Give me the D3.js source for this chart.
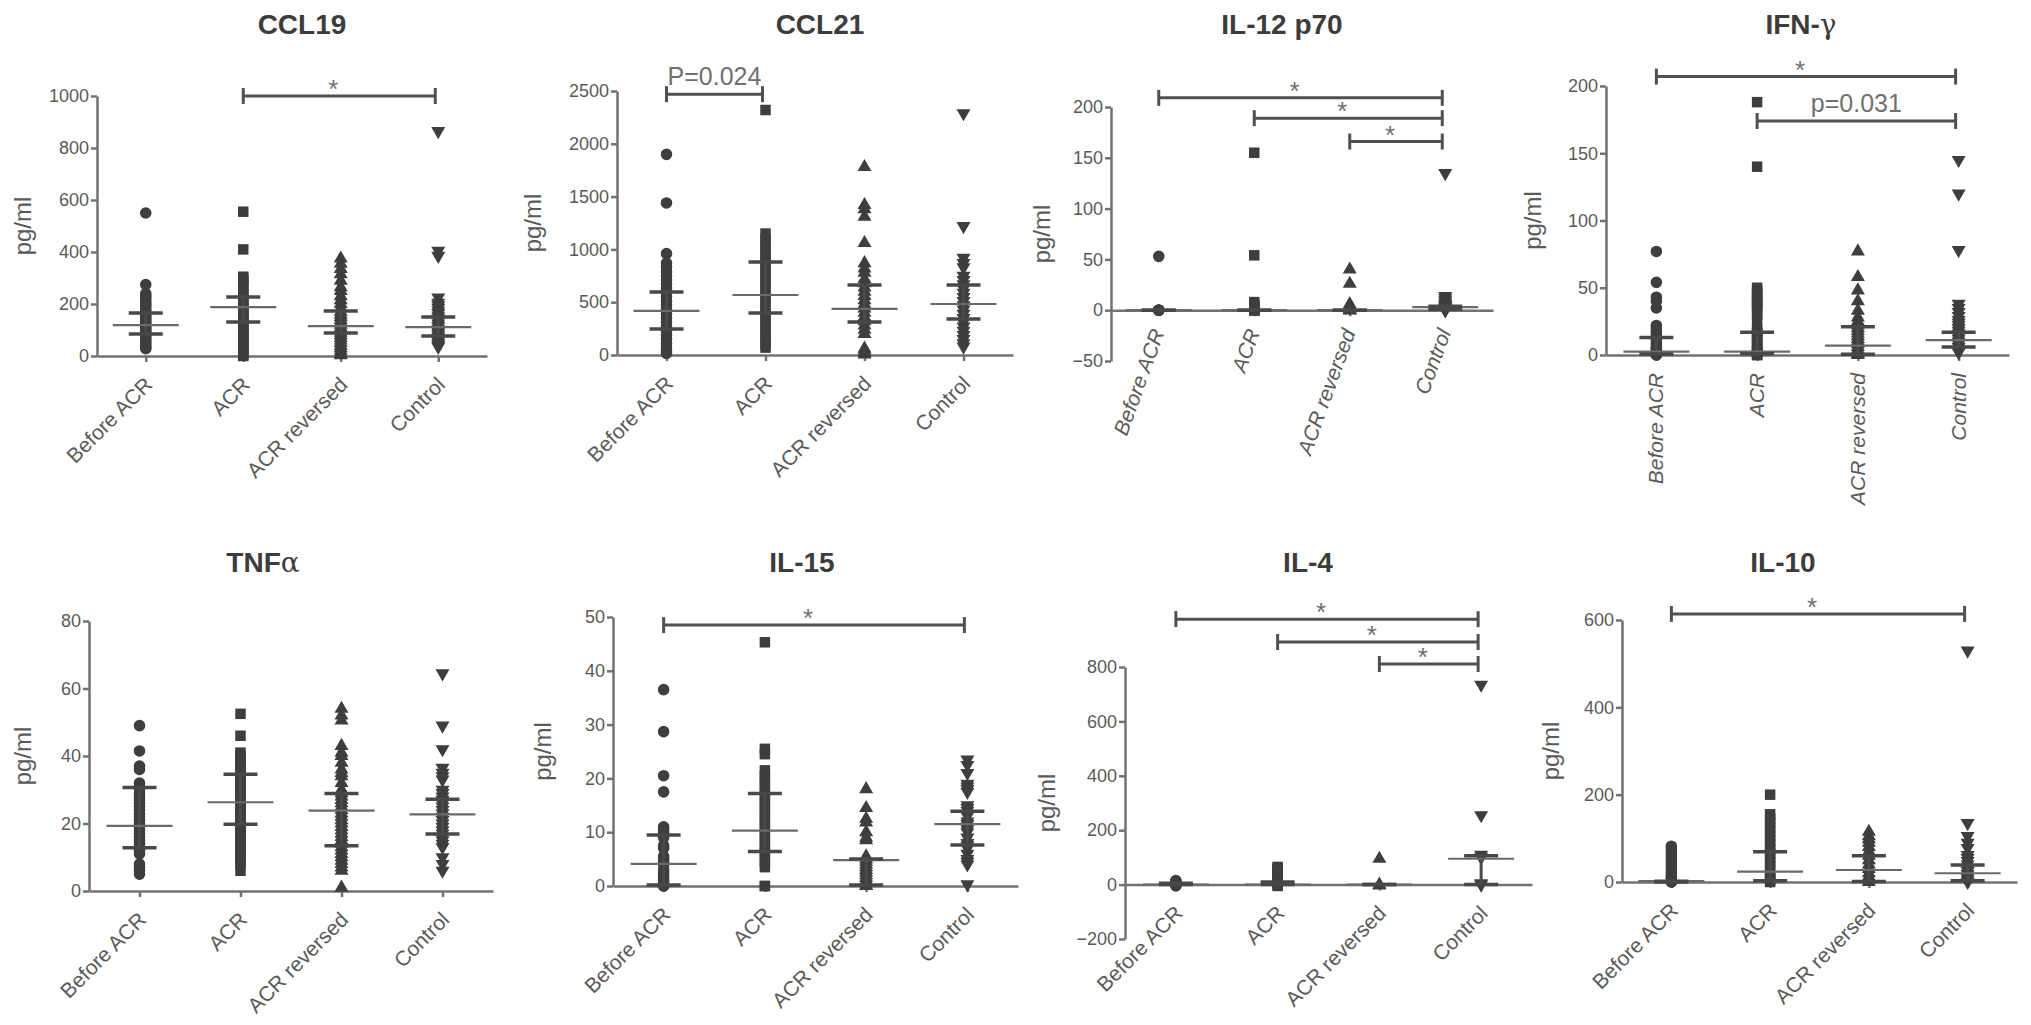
<!DOCTYPE html>
<html lang="en">
<head>
<meta charset="UTF-8">
<title>Cytokine levels by group</title>
<script src="https://d3js.org/d3.v7.min.js"></script>
<style>
  body { margin: 0; background: #fff; }
  svg text { font-family: "Liberation Sans", Arial, sans-serif; }
</style>
</head>
<body>
<svg id="chart" width="2031" height="1025"></svg>
<script>
const groups = ["Before ACR", "ACR", "ACR reversed", "Control"];

// CCL19
const ccl19Values = [
  [550, 275, 240, 232, 225, 215, 205, 198, 190, 180, 172, 165, 158, 150, 142, 135, 128, 120, 112, 105, 98, 92, 85, 78, 70, 62, 55, 48, 40, 32, 28],
  [555, 410, 305, 295, 285, 270, 255, 240, 228, 215, 200, 190, 180, 170, 160, 150, 140, 130, 120, 110, 100, 90, 80, 70, 60, 50, 40, 30, 20, 10, 5, 0],
  [375, 355, 335, 315, 290, 265, 250, 230, 215, 200, 185, 170, 160, 150, 140, 130, 120, 110, 100, 90, 80, 70, 60, 50, 40, 30, 20, 10, 3],
  [865, 405, 385, 225, 205, 195, 185, 175, 165, 155, 145, 135, 125, 115, 105, 95, 88, 80, 72, 65, 58, 50, 42, 35]
];
const ccl19Median = [119, 188, 115, 111];
const ccl19Q1 = [85, 131, 88, 77];
const ccl19Q3 = [165, 227, 173, 150];
const ccl19Ticks = [0, 200, 400, 600, 800, 1000];
const ccl19Brackets = [[1, 3, "*", 1000]];

// CCL21
const ccl21Values = [
  [1900, 1440, 960, 870, 830, 790, 750, 710, 670, 630, 590, 550, 510, 470, 430, 390, 350, 310, 270, 230, 190, 150, 110, 70, 40, 15],
  [2320, 1150, 1100, 1050, 1000, 950, 900, 850, 800, 750, 700, 650, 600, 550, 500, 450, 400, 350, 300, 250, 200, 150, 100, 70],
  [1780, 1420, 1380, 1310, 1060, 870, 820, 780, 720, 680, 640, 600, 560, 520, 480, 440, 400, 360, 320, 280, 240, 200, 60, 40, 20, 5],
  [2290, 1220, 920, 870, 830, 750, 710, 670, 630, 590, 550, 510, 470, 430, 390, 350, 310, 270, 230, 190, 150, 110, 80]
];
const ccl21Median = [417, 568, 436, 483];
const ccl21Q1 = [246, 398, 313, 341];
const ccl21Q3 = [596, 881, 663, 663];
const ccl21Ticks = [0, 500, 1000, 1500, 2000, 2500];
const ccl21Brackets = [[0, 1, "P=0.024", 2470]];

// IL-12 p70
const il12Values = [
  [53, 0, 0, 0, 0, 0],
  [155, 54, 8, 6, 4, 2, 0, 0, 0, 0],
  [40, 26, 6, 3, 1, 0, 0, 0],
  [135, 14, 12, 10, 8, 6, 5, 4, 3, 2, 1, 0, 0]
];
const il12Median = [0, 0, 0, 3];
const il12Q1 = [0, 0, 0, 1];
const il12Q3 = [0, 0, 0, 4];
const il12Ticks = [-50, 0, 50, 100, 150, 200];
const il12Brackets = [[0, 3, "*", 209], [1, 3, "*", 189], [2, 3, "*", 166]];

// IFN-gamma
const ifngValues = [
  [77, 54, 43, 40, 35, 22, 20, 18, 16, 14, 12, 10, 8, 6, 5, 4, 3, 2, 1, 0.5, 0, 0],
  [188, 140, 50, 48, 46, 44, 42, 40, 38, 36, 34, 30, 27, 20, 18, 16, 14, 12, 10, 8, 6, 4, 3, 2, 1, 0, 0],
  [77, 58, 48, 40, 33, 28, 25, 22, 20, 18, 16, 14, 12, 10, 8, 6, 4, 3, 2, 1, 0],
  [145, 120, 78, 38, 35, 32, 29, 26, 24, 22, 20, 18, 16, 14, 12, 10, 8, 6, 4, 2]
];
const ifngMedian = [2.5, 2.5, 7, 11];
const ifngQ1 = [0.7, 1, 0.5, 6];
const ifngQ3 = [13, 17, 21, 17];
const ifngTicks = [0, 50, 100, 150, 200];
const ifngBrackets = [[0, 3, "*", 207], [1, 3, "p=0.031", 174]];

// TNF-alpha
const tnfValues = [
  [49, 41.5, 37, 36, 32, 31, 30, 29, 28, 27, 26, 25, 24, 23, 22, 21, 20, 19, 18, 17, 16, 15, 14, 13, 12, 11, 8, 7, 6, 5],
  [52.5, 46, 41, 40, 39, 38, 37, 36, 35, 34, 33, 32, 31, 30, 29, 28, 27, 26, 25, 24, 23, 22, 21, 20, 19, 18, 17, 16, 15, 14, 13, 12, 11, 10, 9, 8, 6],
  [54, 52, 50.5, 43, 41, 40, 38, 36, 35, 34, 32, 30, 29, 28, 27, 26, 25, 24, 23, 22, 21, 20, 19, 18, 17, 16, 15, 14, 13, 12, 11, 10, 9, 8, 7, 6, 1],
  [64.5, 49, 42, 36.5, 35, 34, 33, 30, 29, 28, 27, 26, 25, 24, 23, 22, 21, 20, 19, 18, 17, 16, 15, 14, 13, 10, 8, 6]
];
const tnfMedian = [19.3, 26.3, 23.8, 22.7];
const tnfQ1 = [12.8, 19.8, 13.4, 16.9];
const tnfQ3 = [30.7, 34.6, 28.9, 27.2];
const tnfTicks = [0, 20, 40, 60, 80];
const tnfBrackets = [];

// IL-15
const il15Values = [
  [36.5, 28.7, 20.5, 17.5, 11, 10.5, 10, 9.5, 9, 7.5, 7, 5.5, 5, 4.5, 4, 3, 2.5, 2, 1.5, 1, 0.5, 0, 0],
  [45.3, 25.5, 24.5, 21.5, 20.5, 19.5, 18.5, 17.5, 16.5, 15.5, 14.5, 13.5, 12.5, 11.5, 10.5, 9.5, 8.5, 7.5, 6.5, 5.5, 4.5, 3.5, 0, 0],
  [18, 14.5, 12.5, 11.8, 10, 9, 8.5, 5.5, 5, 4.5, 4, 3.5, 3, 2.5, 2, 1.5, 1, 0.5, 0, 0],
  [23.5, 22.5, 21, 19, 18.5, 18, 17.5, 15, 14.5, 14, 13, 12, 11.5, 11, 10.5, 10, 9, 8, 7.5, 7, 6, 5, 4.5, 4, 0.3]
];
const il15Median = [4.1, 10.3, 4.8, 11.5];
const il15Q1 = [0.2, 6.4, 0.2, 7.6];
const il15Q3 = [9.5, 17.2, 5, 13.9];
const il15Ticks = [0, 10, 20, 30, 40, 50];
const il15Brackets = [[0, 3, "*", 48.5]];

// IL-4
const il4Values = [
  [15, 12, 9, 6, 3, 0, -5],
  [65, 60, 55, 50, 45, 40, 35, 30, 25, 20, 15, 10, 5, 0, -5],
  [95, 0, -3],
  [735, 255, 110, 100, 5, 0]
];
const il4Median = [0, 0, 0, 95];
const il4Q1 = [0, 0, 0, 0];
const il4Q3 = [5, 10, 0, 106];
const il4Ticks = [-200, 0, 200, 400, 600, 800];
const il4Brackets = [[0, 3, "*", 976], [1, 3, "*", 892], [2, 3, "*", 811]];

// IL-10
const il10Values = [
  [82, 76, 70, 62, 55, 48, 42, 35, 28, 22, 15, 10, 5, 2, 0, 0],
  [200, 155, 145, 135, 125, 115, 105, 95, 85, 75, 65, 55, 45, 35, 25, 15, 8, 3, 0],
  [115, 105, 98, 90, 80, 70, 60, 50, 40, 30, 20, 12, 5, 0],
  [530, 135, 105, 90, 78, 62, 55, 48, 40, 32, 25, 18, 10, 5, 0]
];
const il10Median = [2, 23.6, 27.5, 20];
const il10Q1 = [0, 3, 1, 3];
const il10Q3 = [2, 69, 60, 39];
const il10Ticks = [0, 200, 400, 600];
const il10Brackets = [[0, 3, "*", 614]];

// panel layout (pixel frame of each plot)
const panels = [
  { title: ["CCL19", ""], values: ccl19Values, med: ccl19Median, q1: ccl19Q1, q3: ccl19Q3, ticks: ccl19Ticks, brackets: ccl19Brackets,
    x0: 97, x1: 487, yTop: 96, yBot: 356, angle: -45, italic: false, labDx: -74, titleX: 302, titleY: 34 },
  { title: ["CCL21", ""], values: ccl21Values, med: ccl21Median, q1: ccl21Q1, q3: ccl21Q3, ticks: ccl21Ticks, brackets: ccl21Brackets,
    x0: 617, x1: 1013, yTop: 91, yBot: 355, angle: -45, italic: false, labDx: -84, titleX: 820, titleY: 34 },
  { title: ["IL-12 p70", ""], values: il12Values, med: il12Median, q1: il12Q1, q3: il12Q3, ticks: il12Ticks, brackets: il12Brackets,
    x0: 1111, x1: 1493, yTop: 107, yBot: 361, angle: -70, italic: true, labDx: -69, titleX: 1282, titleY: 34 },
  { title: ["IFN-", "\u03b3"], values: ifngValues, med: ifngMedian, q1: ifngQ1, q3: ifngQ3, ticks: ifngTicks, brackets: ifngBrackets,
    x0: 1606, x1: 2009, yTop: 86, yBot: 355, angle: -90, italic: true, labDx: -73, titleX: 1801, titleY: 34 },
  { title: ["TNF", "\u03b1"], values: tnfValues, med: tnfMedian, q1: tnfQ1, q3: tnfQ3, ticks: tnfTicks, brackets: tnfBrackets,
    x0: 89, x1: 493, yTop: 621, yBot: 891, angle: -45, italic: false, labDx: -66, titleX: 263, titleY: 572 },
  { title: ["IL-15", ""], values: il15Values, med: il15Median, q1: il15Q1, q3: il15Q3, ticks: il15Ticks, brackets: il15Brackets,
    x0: 613, x1: 1018, yTop: 617, yBot: 886, angle: -45, italic: false, labDx: -70, titleX: 802, titleY: 572 },
  { title: ["IL-4", ""], values: il4Values, med: il4Median, q1: il4Q1, q3: il4Q3, ticks: il4Ticks, brackets: il4Brackets,
    x0: 1125, x1: 1532, yTop: 667, yBot: 939, angle: -45, italic: false, labDx: -78, titleX: 1308, titleY: 572 },
  { title: ["IL-10", ""], values: il10Values, med: il10Median, q1: il10Q1, q3: il10Q3, ticks: il10Ticks, brackets: il10Brackets,
    x0: 1622, x1: 2017, yTop: 620, yBot: 882, angle: -45, italic: false, labDx: -71, titleX: 1783, titleY: 572 }
];

const svg = d3.select("#chart");
const axisColor = "#727272";
const markColor = "#3e3e3e";
const textColor = "#5a5a5a";

const shapes = [d3.symbolCircle, d3.symbolSquare, d3.symbolTriangle, d3.symbolTriangle];
const shapeSizes = [105, 110, 85, 85];

panels.forEach(p => {
  const g = svg.append("g");

  const y = d3.scaleLinear()
    .domain([p.ticks[0], p.ticks[p.ticks.length - 1]])
    .range([p.yBot, p.yTop]);
  const x = d3.scalePoint().domain(groups).range([p.x0, p.x1]).padding(0.5);
  const zeroY = y(0);

  // title
  const t = g.append("text")
    .attr("x", p.titleX).attr("y", p.titleY)
    .attr("text-anchor", "middle")
    .attr("font-size", 28).attr("font-weight", "bold")
    .attr("fill", "#3c3c3c");
  t.append("tspan").text(p.title[0]);
  if (p.title[1]) t.append("tspan").attr("font-weight", "normal").attr("font-family", "DejaVu Serif").text(p.title[1]);

  // y axis
  const ya = g.append("g")
    .attr("transform", `translate(${p.x0},0)`)
    .call(d3.axisLeft(y).tickValues(p.ticks).tickSize(6).tickSizeOuter(0).tickPadding(2).tickFormat(d3.format("d")));
  ya.select(".domain").attr("stroke", axisColor).attr("stroke-width", 2.5);
  ya.selectAll(".tick line").attr("stroke", axisColor).attr("stroke-width", 2.5);
  ya.selectAll(".tick text").attr("fill", textColor).attr("font-size", 18)
    .attr("font-family", "Liberation Sans, Arial, sans-serif");

  // y label
  g.append("text")
    .attr("transform", `translate(${p.x0 + p.labDx},${(p.yTop + p.yBot) / 2}) rotate(-90)`)
    .attr("text-anchor", "middle").attr("dy", "0.35em")
    .attr("font-size", 24).attr("fill", textColor)
    .text("pg/ml");

  // x axis at zero
  const xa = g.append("g")
    .attr("transform", `translate(0,${zeroY})`)
    .call(d3.axisBottom(x).tickSize(6).tickSizeOuter(0).tickFormat(""));
  xa.select(".domain").attr("stroke", axisColor).attr("stroke-width", 2.5);
  xa.selectAll(".tick line").attr("stroke", axisColor).attr("stroke-width", 2.5);

  // category labels
  const offX = p.angle === -90 ? 7 : (p.angle === -70 ? 6 : 8);
  const offY = p.angle === -90 ? 18 : (p.angle === -70 ? 22 : 30);
  g.selectAll(".cat").data(groups).join("text")
    .attr("class", "cat")
    .attr("transform", d => `translate(${x(d) + offX},${zeroY + offY}) rotate(${p.angle})`)
    .attr("text-anchor", "end")
    .attr("font-size", 21)
    .attr("font-style", p.italic ? "italic" : "normal")
    .attr("fill", textColor)
    .text(d => d);

  // points
  p.values.forEach((vals, i) => {
    const sym = d3.symbol(shapes[i], shapeSizes[i]);
    g.append("g").selectAll("path").data(vals).join("path")
      .attr("d", sym)
      .attr("transform", v => `translate(${x(groups[i])},${y(v)})` + (i === 3 ? " rotate(180)" : ""))
      .attr("fill", markColor);
  });

  // median + interquartile range
  groups.forEach((grp, i) => {
    const cx = x(grp);
    g.append("line")
      .attr("x1", cx).attr("x2", cx).attr("y1", y(p.q1[i])).attr("y2", y(p.q3[i]))
      .attr("stroke", "#4a4a4a").attr("stroke-width", 3);
    g.append("line")
      .attr("x1", cx - 33).attr("x2", cx + 33).attr("y1", y(p.med[i])).attr("y2", y(p.med[i]))
      .attr("stroke", "#6a6a6a").attr("stroke-width", 2.2);
    [p.q1[i], p.q3[i]].forEach(q => {
      g.append("line")
        .attr("x1", cx - 17).attr("x2", cx + 17).attr("y1", y(q)).attr("y2", y(q))
        .attr("stroke", "#484848").attr("stroke-width", 3.5);
    });
  });

  // significance brackets
  p.brackets.forEach(([a, b, label, level]) => {
    const xa1 = x(groups[a]), xb1 = x(groups[b]) - 3, by = y(level);
    const bg = g.append("g").attr("stroke", "#505050").attr("stroke-width", 3);
    bg.append("line").attr("x1", xa1).attr("x2", xb1).attr("y1", by).attr("y2", by);
    bg.append("line").attr("x1", xa1).attr("x2", xa1).attr("y1", by - 8).attr("y2", by + 8);
    bg.append("line").attr("x1", xb1).attr("x2", xb1).attr("y1", by - 8).attr("y2", by + 8);
    const star = label === "*";
    g.append("text")
      .attr("x", (xa1 + xb1) / 2 - (star ? 6 : 0))
      .attr("y", star ? by + 2 : by - 9)
      .attr("text-anchor", "middle")
      .attr("font-size", star ? 26 : 25)
      .attr("fill", "#707070")
      .text(label);
  });
});
</script>
</body>
</html>
